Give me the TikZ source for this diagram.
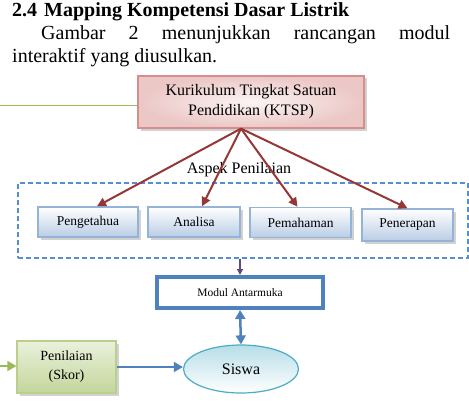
\documentclass[tikz,border=0pt]{standalone}
\usepackage{fontspec}
\setmainfont{Liberation Serif}
\usetikzlibrary{arrows.meta,shapes.geometric,shadows}
\definecolor{ktspred}{HTML}{C0504D}
\definecolor{ktsparrow}{HTML}{953735}
\definecolor{aspekblue}{HTML}{4F81BD}
\definecolor{aspekdash}{HTML}{558ED5}
\definecolor{boxline}{HTML}{95B3D7}
\definecolor{boxfill}{HTML}{B9CDE5}
\definecolor{skorgreen}{HTML}{9BBB59}
\definecolor{skorfill}{HTML}{C3D69B}
\definecolor{siswaline}{HTML}{4BACC6}
\definecolor{siswafill}{HTML}{B7DEE8}
\definecolor{modulpurple}{HTML}{604A7B}
\tikzset{
 km shadow/.style={drop shadow={shadow xshift=2.5pt,shadow yshift=-2.5pt,fill=black!35}},
 km ktsp/.style={draw=ktspred!65,line width=1.2pt,inner color=ktspred!6,outer color=ktspred!32,
   km shadow,minimum width=226pt,minimum height=52pt,align=center,
   font=\fontsize{16}{20}\selectfont},
 km aspek/.style={draw=boxline,line width=1.5pt,top color=white,bottom color=boxfill,
   km shadow,minimum height=30pt,inner sep=0pt,font=\fontsize{13.5}{16}\selectfont},
 km frame/.style={draw=aspekdash,line width=1.2pt,dash pattern=on 5pt off 3pt,
   minimum width=450pt,minimum height=75pt,inner sep=0pt},
 km modul/.style={draw=aspekblue,line width=4pt,fill=white,minimum width=166pt,
   minimum height=31pt,font=\fontsize{11.5}{14}\selectfont},
 km skor/.style={draw=skorgreen!70,line width=1.2pt,top color=skorfill!35,bottom color=skorfill,
   km shadow,minimum width=99pt,minimum height=52pt,align=center,
   font=\fontsize{14}{19}\selectfont},
 km siswa/.style={ellipse,draw=siswaline,line width=1.2pt,top color=siswafill,bottom color=white,
   minimum width=115pt,minimum height=48pt,inner sep=0pt,font=\fontsize{16}{19}\selectfont},
 km flow/.style={-{Triangle[length=9pt,width=9pt]},line width=2pt,draw=ktsparrow},
 km link/.style={line width=1.5pt,draw=aspekblue}
}
\begin{document}
\begin{tikzpicture}[x=1pt,y=-1pt,inner sep=0pt]
\useasboundingbox (0,0) rectangle (469,404);
% heading and paragraph
\node[anchor=base west] (title) at (12,17)
 {\fontsize{20}{24}\selectfont\bfseries 2.4\hspace{7pt}Mapping Kompetensi Dasar Listrik};
\node[anchor=base west] (lineone) at (41,40)
 {\fontsize{20}{24}\selectfont\makebox[409pt][s]{Gambar 2 menunjukkan rancangan modul}};
\node[anchor=base west] (linetwo) at (12,63)
 {\fontsize{20}{24}\selectfont interaktif yang diusulkan.};
% curriculum
\node[km ktsp] (ktsp) at (251,102) {Kurikulum Tingkat Satuan\\Pendidikan (KTSP)};
\coordinate (ktspin) at (0,106);
\draw[skorgreen,line width=1pt] (ktspin) -- (ktspin -| ktsp.west);
% assessment aspects
\node[km frame] (frame) at (243,220.5) {};
\node[font=\fontsize{16}{19}\selectfont] (aspek) at (239,170) {Aspek Penilaian};
\node[km aspek,minimum width=100pt] (peng) at (88,222) {Pengetahua};
\node[km aspek,minimum width=92pt] (anal) at (194,222) {Analisa};
\node[km aspek,minimum width=101pt] (pema) at (300.5,222.5) {Pemahaman};
\node[km aspek,minimum width=91pt,minimum height=32pt] (pene) at (407.5,225) {Penerapan};
\coordinate (ktspfoot) at ([xshift=-10pt]ktsp.south);
\draw[km flow] (ktspfoot) -- ([xshift=9pt]peng.north);
\draw[km flow] (ktspfoot) -- ([xshift=8pt]anal.north);
\draw[km flow] (ktspfoot) -- ([xshift=-3pt]pema.north);
\draw[km flow] (ktspfoot) -- (pene.north);
% interface and student
\node[km modul] (modul) at (240,292.5) {Modul Antarmuka};
\draw[-{Triangle[length=6pt,width=6pt]},line width=1.5pt,modulpurple]
 (modul.north |- frame.south) -- (modul.north);
\node[km siswa] (siswa) at (241,369) {Siswa};
\draw[{Triangle[length=9pt,width=10pt]}-{Triangle[length=9pt,width=10pt]},line width=2.5pt,aspekblue]
 (modul.south) -- (siswa.north);
\node[km skor] (skor) at (66.5,367) {Penilaian\\(Skor)};
\coordinate (skorin) at (0,366);
\draw[-{Triangle[length=9pt,width=10pt]},line width=1.5pt,skorgreen] (skorin) -- (skorin -| skor.west);
\draw[km link,-{Triangle[length=9pt,width=10pt]}] (skor.east) -- (skor.east -| siswa.west);
\end{tikzpicture}
\end{document}
